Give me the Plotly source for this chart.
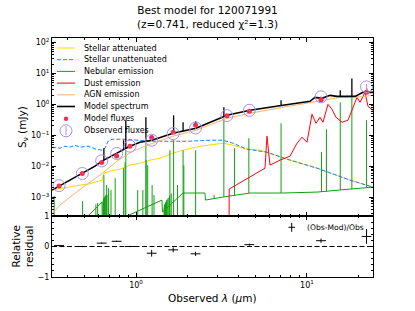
import math
import plotly.graph_objects as go

# ---------------- data (wavelength in micron, flux density in mJy) ----------------
filt_wl = [0.355, 0.485, 0.630, 0.771, 0.922, 1.235, 1.650, 2.230, 3.40, 4.60, 12.08, 22.3]
obs_flux = [0.00234, 0.0058, 0.0148, 0.0257, 0.0442, 0.069, 0.113, 0.172, 0.43, 0.64, 1.75, 3.67]
obs_err = [0.00005, 0.00012, 0.0003, 0.0005, 0.0009, 0.0076, 0.009, 0.012, 0.009, 0.019, 0.12, 0.9]
mod_flux = [0.00227, 0.0058, 0.01317, 0.02133, 0.0442, 0.0842, 0.1254, 0.2133, 0.43, 0.6016, 1.4175, 2.459]

star_att_wl = [0.3227, 0.3594, 0.4111, 0.4396, 0.4705, 0.524, 0.5838, 0.6326, 0.6499, 0.7047, 0.8062,
               0.9224, 1.0554, 1.2075, 1.3818, 1.6455, 1.8829, 2.3674, 3.2273, 3.6925, 4.4587, 5.3117,
               7.6384, 11.442, 17.846, 24.322]
star_att_fl = [0.00168, 0.00188, 0.0021, 0.00226, 0.00244, 0.00262, 0.00305, 0.00353, 0.00594, 0.0069,
               0.008, 0.0108, 0.0125, 0.0156, 0.0181, 0.0263, 0.0328, 0.0442, 0.0552, 0.0476, 0.0353,
               0.0328, 0.0168, 0.0086, 0.00353, 0.0021]

star_un_wl = [0.3227, 0.3594, 0.3843, 0.4111, 0.4396, 0.4705, 0.524, 0.5838, 0.6326, 0.6588, 0.6862,
              0.7237, 0.8624, 1.0554, 1.2075, 1.58, 2.069, 2.709, 3.2273, 3.6925, 4.4587, 5.8355,
              7.6384, 11.442, 17.846, 24.322]
star_un_fl = [0.041, 0.0381, 0.0442, 0.041, 0.0476, 0.041, 0.0442, 0.0353, 0.0328, 0.0381, 0.064,
              0.0743, 0.0743, 0.069, 0.064, 0.064, 0.064, 0.069, 0.069, 0.0552, 0.0353, 0.0283,
              0.0168, 0.0086, 0.00353, 0.0021]

neb_cont_wl = [0.470, 0.524, 0.6326, 0.637, 0.8858, 1.419, 1.429, 1.8829, 2.532, 2.549, 3.2273,
               4.6416, 7.2378, 11.442, 17.846, 24.322]
neb_cont_fl = [0.000125, 0.000244, 0.00069, 0.000087, 0.000244, 0.0008, 0.000328, 0.00135, 0.00135,
               0.0008, 0.001, 0.00135, 0.00135, 0.00145, 0.00181, 0.0021]

# nebular lines drawn down from below the axis (blue part)
neb_line_wl = [0.3323, 0.4871, 0.5825, 0.5965, 0.6428, 0.6436, 0.6449, 0.6463, 0.6478, 0.6489, 0.6502,
               0.6529, 0.6565, 0.6612, 0.6677, 0.6736, 0.6770, 0.6912, 0.7142, 0.7556, 0.8463, 0.8634,
               0.8717, 1.023, 1.0968, 1.1426, 1.1463, 1.1705, 1.2424, 1.2744, 1.4610, 1.4647, 1.4690,
               1.4741, 1.4802, 1.4877, 1.4969, 1.5086, 1.5234, 1.5431, 1.5695, 1.5789, 1.6068, 1.6593,
               1.7495, 1.8855, 1.9043, 2.2316]
neb_line_peak = [0.00108, 0.00074, 0.00058, 0.00064, 0.0007, 0.00075, 0.0008, 0.00085, 0.0009, 0.00513,
                 0.00095, 0.0009, 0.001, 0.0011, 0.0012, 0.00244, 0.00116, 0.00195, 0.00168, 0.0041,
                 0.0086, 0.0135, 0.0328, 0.00168, 0.00168, 0.0552, 0.0156, 0.0108, 0.00244, 0.00116,
                 0.00045, 0.0005, 0.00055, 0.00058, 0.0006, 0.00066, 0.0007, 0.00078, 0.00085, 0.00095,
                 0.0011, 0.0328, 0.0013, 0.069, 0.00244, 0.0328, 0.0108, 0.0328]
# nebular lines standing on the visible continuum (red part)
neb_line2_wl = [2.862, 3.2646, 3.7701, 4.5705, 7.0531, 12.161, 12.988, 15.653, 18.298, 22.302]
neb_line2_base = [0.0009, 0.001, 0.0011, 0.00135, 0.00135, 0.00145, 0.0015, 0.0017, 0.0018, 0.002]
neb_line2_peak = [0.00116, 0.353, 0.0381, 0.08, 0.244, 0.0283, 0.156, 1.16, 1.68, 0.305]
line_floor = 1e-5

dust_wl = [3.4989, 3.508, 5.6804, 5.8355, 6.0762, 6.9519, 7.9535, 8.7398, 9.3503, 10.0, 10.696, 11.288,
           11.912, 12.403, 13.268, 14.003, 14.777, 16.021, 17.372, 18.578, 19.61, 20.414, 21.838,
           22.735, 24.322]
dust_fl = [1e-5, 0.00181, 0.0086, 0.0929, 0.0108, 0.0156, 0.021, 0.0552, 0.0862, 0.0594, 0.475, 0.244,
           0.381, 0.263, 1.0, 0.69, 0.381, 0.263, 0.305, 0.743, 1.68, 1.16, 2.44, 0.862, 0.64]

agn_wl = [0.3227, 0.3594, 0.4111, 0.4898, 0.6158, 0.7743, 0.9605, 1.2075, 1.6455, 2.2434, 3.4058,
          4.6416, 7.2378, 10.842, 15.596, 20.414, 24.322]
agn_fl = [0.000283, 0.00055, 0.001, 0.0021, 0.00513, 0.0145, 0.0305, 0.0512, 0.0929, 0.145, 0.353,
          0.513, 0.8, 1.16, 1.68, 1.75, 1.95]

model_wl = [0.3227, 0.3546, 0.4111, 0.4832, 0.5756, 0.6326, 0.7047, 0.7743, 0.851, 0.9224, 1.0554,
            1.24, 1.6455, 2.2434, 3.4058, 4.6416, 7.2378, 10.41, 11.14, 12.24, 13.63, 14.98, 17.14,
            19.09, 21.26, 24.322]
model_fl = [0.00168, 0.00226, 0.00353, 0.00594, 0.01, 0.0145, 0.0195, 0.0263, 0.0353, 0.0442, 0.0594,
            0.069, 0.116, 0.168, 0.442, 0.64, 0.929, 1.25, 1.68, 1.56, 1.95, 1.81, 1.81, 1.81, 2.44, 2.44]

model_line_wl = [0.6489, 0.8463, 0.8717, 1.1426, 1.6593, 1.8855, 2.2316, 3.2646, 7.0531, 15.653, 18.298,
                 22.302]
model_line_base = [0.0156, 0.0353, 0.0381, 0.0594, 0.116, 0.1346, 0.168, 0.41, 0.929, 1.81, 1.81, 2.44]
model_line_peak = [0.0381, 0.069, 0.305, 0.381, 0.442, 0.263, 0.283, 0.8, 1.35, 2.83, 6.9, 3.3]

x_range_um = [0.3227, 24.322]
y_range_mjy = [0.000244, 139.6]
y_tick_vals = [1e-3, 1e-2, 1e-1, 1e0, 1e1, 1e2]
y_tick_text = ['10<sup>−3</sup>', '10<sup>−2</sup>', '10<sup>−1</sup>', '10<sup>0</sup>',
               '10<sup>1</sup>', '10<sup>2</sup>']
x_tick_vals = [1, 10]
x_tick_text = ['10<sup>0</sup>', '10<sup>1</sup>']

legend_labels = ['Stellar attenuated', 'Stellar unattenuated', 'Nebular emission', 'Dust emission',
                 'AGN emission', 'Model spectrum', 'Model fluxes', 'Observed fluxes']
title_lines = ['Best model for 120071991', '(z=0.741, reduced χ²=1.3)']

# ---------------- styling ----------------
C_ATT = '#FFD700'
C_UN = '#1f7ff5'
C_NEB = '#12a012'
C_DUST = '#ff000d'
C_AGN = '#ffb16d'
C_MOD = '#000000'
C_MF = '#f0304a'
C_OBS = '#a98ef0'

W, H = 415, 311
L, R, T, B = 52, 373, 38, 277
SPLIT = 216


def px(x):
    return (x - L) / (R - L)


def py(y):
    return (B - y) / (B - T)


def segs(wl, lo, hi):
    xs, ys = [], []
    for w, a, b in zip(wl, lo, hi):
        xs += [w, w, None]
        ys += [a, b, None]
    return xs, ys


fig = go.Figure()
fig.add_trace(go.Scatter(x=star_att_wl, y=star_att_fl, mode='lines', line=dict(color=C_ATT, width=1),
                         showlegend=False))
fig.add_trace(go.Scatter(x=star_un_wl, y=star_un_fl, mode='lines',
                         line=dict(color=C_UN, width=1, dash='4px,2px'), showlegend=False))
fig.add_trace(go.Scatter(x=neb_cont_wl, y=neb_cont_fl, mode='lines', line=dict(color=C_NEB, width=1),
                         showlegend=False))
lx, ly = segs(neb_line_wl, [line_floor] * len(neb_line_wl), neb_line_peak)
lx2, ly2 = segs(neb_line2_wl, neb_line2_base, neb_line2_peak)
fig.add_trace(go.Scatter(x=lx + lx2, y=ly + ly2, mode='lines', line=dict(color=C_NEB, width=1),
                         showlegend=False, connectgaps=False))
fig.add_trace(go.Scatter(x=dust_wl, y=dust_fl, mode='lines', line=dict(color=C_DUST, width=1),
                         showlegend=False))
fig.add_trace(go.Scatter(x=agn_wl, y=agn_fl, mode='lines', line=dict(color=C_AGN, width=1),
                         showlegend=False))
fig.add_trace(go.Scatter(x=model_wl, y=model_fl, mode='lines', line=dict(color=C_MOD, width=1.6),
                         showlegend=False))
mx, my = segs(model_line_wl, model_line_base, model_line_peak)
fig.add_trace(go.Scatter(x=mx, y=my, mode='lines', line=dict(color=C_MOD, width=1.3), showlegend=False,
                         connectgaps=False))
fig.add_trace(go.Scatter(x=filt_wl, y=mod_flux, mode='markers',
                         marker=dict(color=C_MF, size=5, line=dict(width=0)), showlegend=False))
fig.add_trace(go.Scatter(x=filt_wl, y=obs_flux, mode='markers',
                         marker=dict(symbol='circle-open', size=12, color=C_OBS, line=dict(width=1)),
                         error_y=dict(type='data', array=obs_err, color=C_OBS, thickness=1, width=0),
                         showlegend=False))

resid = [(o - m) / o for o, m in zip(obs_flux, mod_flux)]
resid_err = [e / o for o, e in zip(obs_flux, obs_err)]
fig.add_trace(go.Scatter(x=filt_wl, y=resid, mode='markers', xaxis='x2', yaxis='y2',
                         marker=dict(symbol='line-ew', size=7, color='black',
                                     line=dict(width=1, color='black')),
                         error_y=dict(type='data', array=resid_err, color='black', thickness=1, width=0),
                         showlegend=False))

axis_common = dict(showline=True, linecolor='black', linewidth=1, mirror='allticks', ticks='inside',
                   ticklen=4, tickwidth=0.8, tickcolor='black', showgrid=False, zeroline=False,
                   tickfont=dict(size=8, color='black'))
x_minor = [0.4, 0.5, 0.6, 0.7, 0.8, 0.9, 2, 3, 4, 5, 6, 7, 8, 9, 20]
y_minor = [m * 10 ** e for e in range(-4, 3) for m in range(2, 10)]

fig.update_layout(
    width=W, height=H, margin=dict(l=L, r=W - R, t=T, b=H - B),
    paper_bgcolor='white', plot_bgcolor='white',
    font=dict(family='DejaVu Sans', color='black', size=8),
    xaxis=dict(type='log', range=[math.log10(x_range_um[0]), math.log10(x_range_um[1])], anchor='y',
               domain=[0, 1], tickvals=x_tick_vals, ticktext=x_tick_text, showticklabels=False,
               minor=dict(tickvals=x_minor, ticks='inside', ticklen=2, tickcolor='black', tickwidth=0.6),
               **axis_common),
    yaxis=dict(type='log', range=[math.log10(y_range_mjy[0]), math.log10(y_range_mjy[1])], anchor='x',
               domain=[py(SPLIT), 1], tickvals=y_tick_vals, ticktext=y_tick_text,
               minor=dict(tickvals=y_minor, ticks='inside', ticklen=2, tickcolor='black', tickwidth=0.6),
               **axis_common),
    xaxis2=dict(type='log', range=[math.log10(x_range_um[0]), math.log10(x_range_um[1])], anchor='y2',
                domain=[0, 1], matches='x', tickvals=x_tick_vals, ticktext=x_tick_text,
                minor=dict(tickvals=x_minor, ticks='inside', ticklen=2, tickcolor='black', tickwidth=0.6),
                **axis_common),
    yaxis2=dict(range=[-1, 1], anchor='x2', domain=[0, py(SPLIT)], tickvals=[-1, 0, 1],
                ticktext=['−1', '0', '1'],
                minor=dict(dtick=0.2, ticks='inside', ticklen=2, tickcolor='black', tickwidth=0.6),
                **axis_common),
)

shapes = [dict(type='line', xref='x2 domain', x0=0, x1=1, yref='y2', y0=0, y1=0,
               line=dict(color='black', width=1.2, dash='5px,2.5px'))]
annotations = []
rows = [48, 59.7, 71.4, 83.1, 94.8, 106.5, 118.8, 130.8]
line_styles = [(C_ATT, 1, 'solid'), (C_UN, 1, '4px,2px'), (C_NEB, 1, 'solid'), (C_DUST, 1, 'solid'),
               (C_AGN, 1, 'solid'), (C_MOD, 1.6, 'solid')]
for r, (c, w, d) in zip(rows[:6], line_styles):
    shapes.append(dict(type='line', xref='paper', yref='paper', x0=px(57), x1=px(75), y0=py(r), y1=py(r),
                       line=dict(color=c, width=w, dash=d)))
shapes.append(dict(type='circle', xref='paper', yref='paper', x0=px(63.8), x1=px(68.2), y0=py(rows[6] + 2.2),
                   y1=py(rows[6] - 2.2), fillcolor=C_MF, line=dict(width=0)))
shapes.append(dict(type='circle', xref='paper', yref='paper', x0=px(60), x1=px(72), y0=py(rows[7] + 6),
                   y1=py(rows[7] - 6), line=dict(color=C_OBS, width=1)))
shapes.append(dict(type='line', xref='paper', yref='paper', x0=px(66), x1=px(66), y0=py(rows[7] + 4.5),
                   y1=py(rows[7] - 4.5), line=dict(color=C_OBS, width=1)))
for r, t in zip(rows, legend_labels):
    annotations.append(dict(text=t, xref='paper', yref='paper', x=px(82), y=py(r), xanchor='left',
                            yanchor='middle', showarrow=False, font=dict(size=8)))

# residual legend
shapes.append(dict(type='line', xref='paper', yref='paper', x0=px(288.5), x1=px(295), y0=py(227.3),
                   y1=py(227.3), line=dict(color='black', width=1)))
shapes.append(dict(type='line', xref='paper', yref='paper', x0=px(291.7), x1=px(291.7), y0=py(223),
                   y1=py(231.8), line=dict(color='black', width=1)))
annotations.append(dict(text='(Obs-Mod)/Obs', xref='paper', yref='paper', x=px(305), y=py(227.3),
                        xanchor='left', yanchor='middle', showarrow=False, font=dict(size=7.6)))

# title
annotations.append(dict(text='<br>'.join(title_lines), xref='paper', yref='paper', x=px(207.5), y=py(16.5),
                        xanchor='center', yanchor='middle', showarrow=False, align='center',
                        font=dict(size=10.5)))
# axis titles
annotations.append(dict(text='S<sub>ν</sub> (mJy)', xref='paper', yref='paper', x=px(23), y=py(127),
                        xanchor='center', yanchor='middle', textangle=-90, showarrow=False,
                        font=dict(size=10.5)))
annotations.append(dict(text='Relative<br>residual', xref='paper', yref='paper', x=px(22), y=py(246.5),
                        xanchor='center', yanchor='middle', textangle=-90, showarrow=False,
                        font=dict(size=10.5)))
annotations.append(dict(text='Observed <i>λ</i> (<i>μ</i>m)', xref='paper', yref='paper', x=px(212),
                        y=py(298), xanchor='center', yanchor='middle', showarrow=False,
                        font=dict(size=10.5)))

fig.update_layout(shapes=shapes, annotations=annotations)
fig.write_html('out.html', config={'displayModeBar': False},
               post_script="document.body.style.margin='0px';")
